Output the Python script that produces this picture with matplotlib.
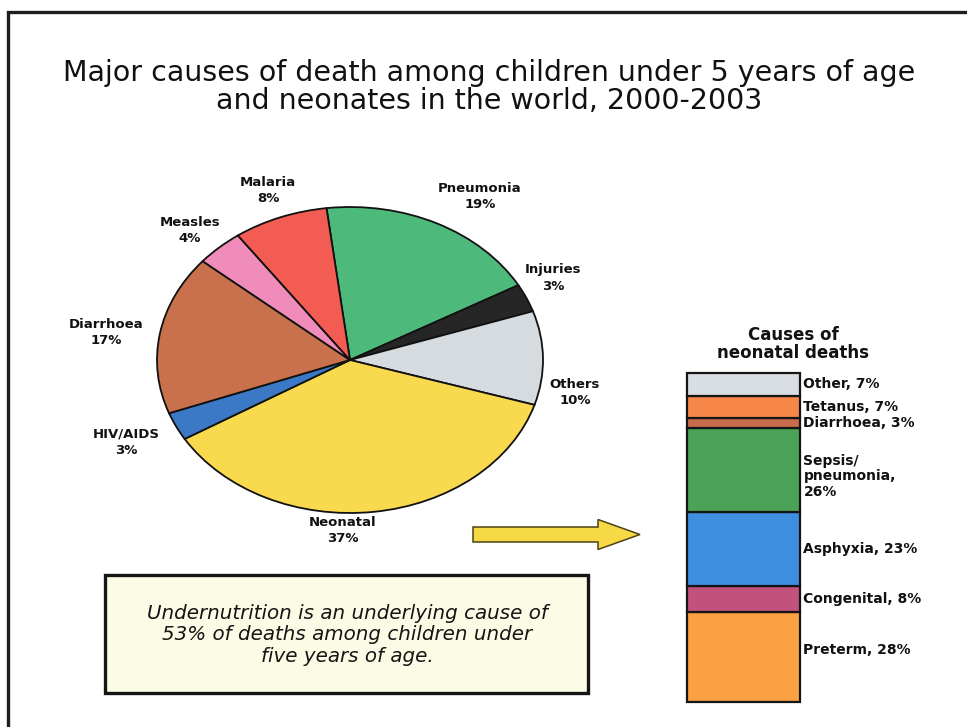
import numpy as np
import matplotlib.pyplot as plt
from matplotlib.patches import Rectangle, FancyArrow

W, H = 967, 727

# deaths of children under 5, % (clockwise from the top)
causes = ['Pneumonia', 'Injuries', 'Others', 'Neonatal', 'HIV/AIDS', 'Diarrhoea', 'Measles', 'Malaria']
shares = [19, 3, 10, 37, 3, 17, 4, 8]
pie_colors = ['#4dba7c', '#262626', '#d6dbdf', '#f9da4e', '#3b79c6', '#c9704c', '#ef8cba', '#f35c52']

# neonatal deaths, % (bottom of the bar to the top)
neo_causes = ['Preterm', 'Congenital', 'Asphyxia', 'Sepsis/\npneumonia', 'Diarrhoea', 'Tetanus', 'Other']
neo_shares = [28, 8, 23, 26, 3, 7, 7]
neo_colors = ['#fba043', '#c0527c', '#3f8fe0', '#4aa356', '#c96c4d', '#f8884a', '#d9dee3']

# where the pie labels sit, in pixels from the top left
label_xy = {'Pneumonia': (480, 196), 'Injuries': (553, 278), 'Others': (575, 393),
            'Neonatal': (343, 531), 'HIV/AIDS': (126, 442), 'Diarrhoea': (106, 332),
            'Measles': (190, 231), 'Malaria': (268, 191)}

fig = plt.figure(figsize=(W / 100, H / 100), dpi=100)
fig.patch.set_facecolor('white')

# full-size axes in pixel units for the frame, title, arrow and note
bg = fig.add_axes([0, 0, 1, 1])
bg.set_xlim(0, W)
bg.set_ylim(H, 0)
bg.axis('off')

bg.plot([8, 8, W + 5], [H + 5, 12, 12], color='#1e1e1e', lw=2.4, solid_joinstyle='miter')

bg.text(489, 87, 'Major causes of death among children under 5 years of age\nand neonates in the world, 2000-2003',
        ha='center', va='center', fontsize=20.5, linespacing=1.02, color='#111111')

# pie, squashed into an ellipse
cx, cy, rx, ry = 350, 360, 193, 153
pad = 1.1
pax = fig.add_axes([(cx - pad * rx) / W, (H - cy - pad * ry) / H, 2 * pad * rx / W, 2 * pad * ry / H])
pax.pie(shares, colors=pie_colors, startangle=97, counterclock=False,
        wedgeprops=dict(edgecolor='#111111', linewidth=1.3))
pax.set_aspect('auto')
pax.set_xlim(-pad, pad)
pax.set_ylim(-pad, pad)
pax.axis('off')

for name, val in zip(causes, shares):
    x, y = label_xy[name]
    bg.text(x, y, f'{name}\n{val}%', ha='center', va='center', fontsize=9.5,
            fontweight='bold', linespacing=1.3, color='#111111')

# note box
bg.add_patch(Rectangle((105, 575), 483, 118, facecolor='#fbfbe6', edgecolor='#151515', lw=2.4))
bg.text(347, 635, 'Undernutrition is an underlying cause of\n53% of deaths among children under\nfive years of age.',
        ha='center', va='center', fontsize=14.3, style='italic', linespacing=1.17, color='#151515')

# arrow pointing at the neonatal breakdown
bg.add_patch(FancyArrow(473, 534.5, 167, 0, width=15, head_width=30, head_length=42,
                        length_includes_head=True, facecolor='#f7d845', edgecolor='#4a4218', lw=1.1))

# stacked bar of neonatal causes
total = sum(neo_shares)
bax = fig.add_axes([687 / W, (H - 702) / H, 113 / W, 329 / H])
bottoms = np.concatenate([[0], np.cumsum(neo_shares)[:-1]])
bars = bax.bar(0, neo_shares, bottom=bottoms, width=1, color=neo_colors,
               edgecolor='#151515', linewidth=1.6)
for b in bars:
    b.set_clip_on(False)
bax.set_xlim(-0.5, 0.5)
bax.set_ylim(0, total)
bax.axis('off')

for name, val, b0 in zip(neo_causes, neo_shares, bottoms):
    label = f'{name},\n{val}%' if '\n' in name else f'{name}, {val}%'
    ypos = b0 + val / 2
    if '\n' in name:
        ypos -= 2
    elif name == 'Preterm':
        ypos += 2
    bax.text(0.53, ypos, label, ha='left', va='center', fontsize=10, fontweight='bold',
             linespacing=1.15, color='#111111', clip_on=False)

bax.text(0.44, total + 9, 'Causes of\nneonatal deaths', ha='center', va='center',
         fontsize=12, fontweight='bold', linespacing=1.05, color='#111111')

fig.savefig('out.png', dpi=100)
